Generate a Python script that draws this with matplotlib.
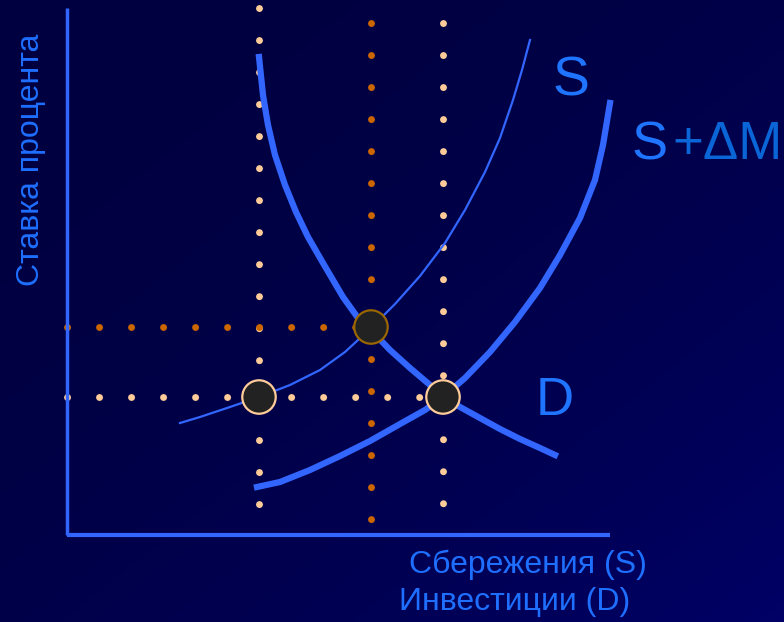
import numpy as np
import matplotlib
matplotlib.use("Agg")
from matplotlib import pyplot as plt

plt.rcParams['font.family'] = ['Liberation Sans', 'DejaVu Sans']

# кривые (координаты в пикселях картинки: x вправо, y вниз)
d_x = [259, 263, 268, 275, 285, 296, 308, 323, 343, 358, 371, 390, 410, 430, 443,
       460, 480, 500, 520, 540, 555]
d_y = [57, 95, 125, 155, 185, 212, 237, 263, 297, 318, 330, 350, 368, 385, 396,
       407, 418, 429, 439, 448, 455]

s_x = [180, 200, 230, 259, 290, 320, 345, 371, 395, 420, 445, 465, 485, 500, 513, 522, 530]
s_y = [423, 417, 407, 397, 385, 370, 352, 328, 304, 276, 243, 210, 172, 138, 100, 70, 40]

sm_x = [257, 280, 310, 340, 370, 400, 425, 443, 465, 490, 515, 540, 560, 580, 595, 603, 610]
sm_y = [487, 482, 470, 456, 441, 424, 410, 397, 378, 352, 322, 288, 255, 218, 180, 145, 103]

# точки равновесия
eq_x = [259, 371, 443]
eq_y = [397, 327, 397]
eq_edge = ['#ffcc99', '#996600', '#ffcc99']

# пунктирные направляющие: (x0, y0, x1, y1, цвет)
guides = [
    (259, 8, 259, 362, '#ffcc99'),
    (259, 440, 259, 506, '#ffcc99'),
    (443, 23, 443, 506, '#ffcc99'),
    (67, 397, 445, 397, '#ffcc99'),
    (371, 23, 371, 300, '#cc6600'),
    (371, 359, 371, 522, '#cc6600'),
    (67, 327, 373, 327, '#cc6600'),
]

fig = plt.figure(figsize=(7.84, 6.22), dpi=100)
ax = fig.add_axes([0, 0, 1, 1])
ax.set_xlim(0, 784)
ax.set_ylim(622, 0)
ax.axis('off')

# фон с градиентом
gx, gy = np.meshgrid(np.linspace(0, 1, 200), np.linspace(0, 1, 200))
t = (gx + gy) / 2
bg = np.zeros((200, 200, 3))
bg[..., 2] = (64 + 38 * t ** 2) / 255
ax.imshow(bg, extent=[0, 784, 622, 0], aspect='auto', zorder=0)

# оси
ax.plot([67, 67], [8, 535], color='#3366ff', lw=2.5, solid_capstyle='butt', zorder=2)
ax.plot([67, 610], [535, 535], color='#3366ff', lw=3, solid_capstyle='butt', zorder=2)

for x0, y0, x1, y1, c in guides:
    ax.plot([x0, x1], [y0, y1], color=c, lw=5, linestyle=(0, (0.01, 4.6)),
            dash_capstyle='round', zorder=1)

ax.plot(s_x, s_y, color='#3366ff', lw=1.6, zorder=3)
ax.plot(d_x, d_y, color='#3366ff', lw=4.5, zorder=3)
ax.plot(sm_x, sm_y, color='#3366ff', lw=4.5, zorder=3)

ax.scatter(eq_x, eq_y, s=580, c='#222222', edgecolors=eq_edge, linewidths=1.6, zorder=4)

ax.text(571, 81, 'S', color='#1f75ff', fontsize=40, ha='center', va='center')
ax.text(632, 145, 'S', color='#1f75ff', fontsize=39, ha='left', va='center')
ax.text(672, 145, '+ΔM', color='#0a66d6', fontsize=38, ha='left', va='center')
ax.text(555, 401, 'D', color='#1f75ff', fontsize=38, ha='center', va='center')

ax.text(31, 160, 'Ставка процента', color='#1f6fff', fontsize=23, rotation=90,
        ha='center', va='center')
ax.text(528, 565, 'Сбережения (S)', color='#1f6fff', fontsize=23, ha='center', va='center')
ax.text(515, 602, 'Инвестиции (D)', color='#1f6fff', fontsize=23, ha='center', va='center')

fig.savefig('out.png', dpi=100)
